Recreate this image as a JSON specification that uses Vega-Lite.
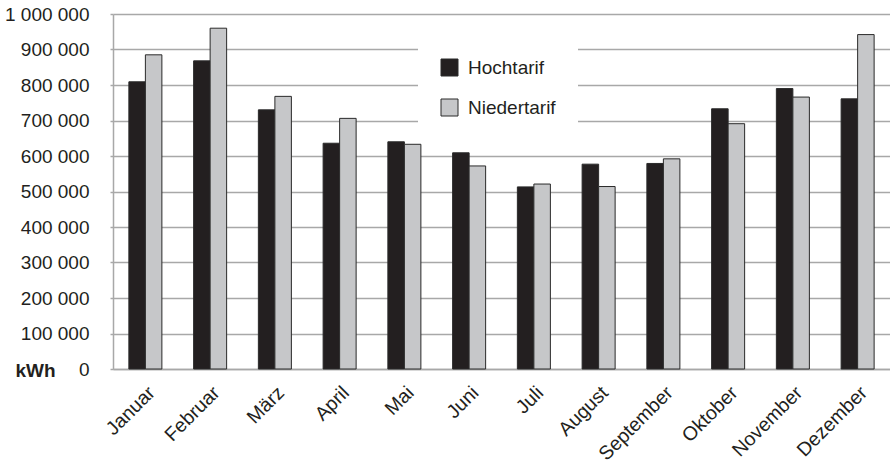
{
  "$schema": "https://vega.github.io/schema/vega-lite/v6.json",
  "width": 777,
  "height": 355,
  "autosize": "none",
  "padding": {"left": 113, "top": 14, "right": 0, "bottom": 98},
  "background": "white",
  "config": {
    "font": "Liberation Sans",
    "view": {"stroke": null},
    "locale": {"number": {"decimal": ",", "thousands": " ", "grouping": [3], "currency": ["", " €"]}}
  },
  "data": {
    "values": [
      {"monat": "Januar", "tarif": "Hochtarif", "kwh": 809000},
      {"monat": "Januar", "tarif": "Niedertarif", "kwh": 885000},
      {"monat": "Februar", "tarif": "Hochtarif", "kwh": 868000},
      {"monat": "Februar", "tarif": "Niedertarif", "kwh": 960000},
      {"monat": "März", "tarif": "Hochtarif", "kwh": 730000},
      {"monat": "März", "tarif": "Niedertarif", "kwh": 768000},
      {"monat": "April", "tarif": "Hochtarif", "kwh": 636000},
      {"monat": "April", "tarif": "Niedertarif", "kwh": 706000},
      {"monat": "Mai", "tarif": "Hochtarif", "kwh": 640000},
      {"monat": "Mai", "tarif": "Niedertarif", "kwh": 633000},
      {"monat": "Juni", "tarif": "Hochtarif", "kwh": 609000},
      {"monat": "Juni", "tarif": "Niedertarif", "kwh": 572000},
      {"monat": "Juli", "tarif": "Hochtarif", "kwh": 513000},
      {"monat": "Juli", "tarif": "Niedertarif", "kwh": 521000},
      {"monat": "August", "tarif": "Hochtarif", "kwh": 577000},
      {"monat": "August", "tarif": "Niedertarif", "kwh": 514000},
      {"monat": "September", "tarif": "Hochtarif", "kwh": 579000},
      {"monat": "September", "tarif": "Niedertarif", "kwh": 592000},
      {"monat": "Oktober", "tarif": "Hochtarif", "kwh": 733000},
      {"monat": "Oktober", "tarif": "Niedertarif", "kwh": 691000},
      {"monat": "November", "tarif": "Hochtarif", "kwh": 790000},
      {"monat": "November", "tarif": "Niedertarif", "kwh": 766000},
      {"monat": "Dezember", "tarif": "Hochtarif", "kwh": 761000},
      {"monat": "Dezember", "tarif": "Niedertarif", "kwh": 942000}
    ]
  },
  "mark": {"type": "bar", "stroke": "#2a2a2a", "strokeWidth": 1},
  "encoding": {
    "x": {
      "field": "monat",
      "type": "nominal",
      "sort": ["Januar", "Februar", "März", "April", "Mai", "Juni", "Juli", "August", "September", "Oktober", "November", "Dezember"],
      "scale": {"paddingInner": 0.49, "paddingOuter": 0.245},
      "axis": {
        "title": null,
        "labelAngle": -45,
        "labelAlign": "right",
        "labelBaseline": "top",
        "labelFontSize": 19.5,
        "labelColor": "#231f20",
        "labelPadding": 14,
        "ticks": false,
        "domainColor": "#a8a8a8",
        "domainWidth": 1.5,
        "grid": false
      }
    },
    "xOffset": {"field": "tarif", "type": "nominal", "sort": ["Hochtarif", "Niedertarif"]},
    "y": {
      "field": "kwh",
      "type": "quantitative",
      "scale": {"domain": [0, 1000000], "nice": false},
      "axis": {
        "values": [0, 100000, 200000, 300000, 400000, 500000, 600000, 700000, 800000, 900000, 1000000],
        "format": ",d",
        "labelFontSize": 19,
        "labelColor": "#231f20",
        "labelPadding": 21,
        "tickSize": 3,
        "tickColor": "#a8a8a8",
        "tickWidth": 1.5,
        "domainColor": "#a8a8a8",
        "domainWidth": 1.5,
        "gridColor": "#a8a8a8",
        "gridWidth": 1.5,
        "title": "kWh",
        "titleAngle": 0,
        "titleFontSize": 19,
        "titleFontWeight": "bold",
        "titleColor": "#231f20",
        "titleAlign": "left",
        "titleBaseline": "middle",
        "titleX": -98,
        "titleY": 356
      }
    },
    "color": {
      "field": "tarif",
      "type": "nominal",
      "scale": {"domain": ["Hochtarif", "Niedertarif"], "range": ["#231f20", "#c6c7c9"]},
      "legend": {
        "title": null,
        "orient": "none",
        "legendX": 305,
        "legendY": 22,
        "padding": 22,
        "fillColor": "white",
        "symbolType": "square",
        "symbolSize": 289,
        "symbolStrokeColor": "#2a2a2a",
        "symbolStrokeWidth": 1,
        "labelFontSize": 19,
        "labelColor": "#231f20",
        "labelOffset": 9,
        "rowPadding": 19
      }
    }
  }
}
